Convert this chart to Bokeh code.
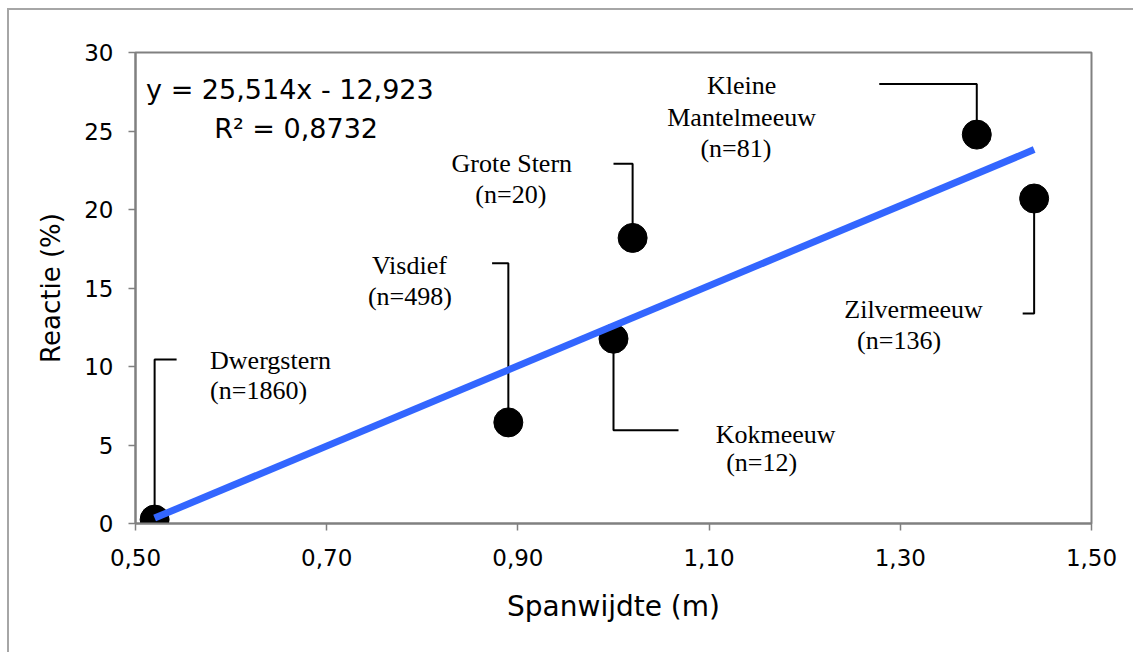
from bokeh.plotting import figure
from bokeh.models import Range1d, FixedTicker, CustomJSTickFormatter, ColumnDataSource, Styles
from bokeh.core.properties import value
from bokeh.embed import file_html
from bokeh.resources import INLINE

# Wingspan versus reaction per species
species = ["Dwergstern", "Visdief", "Kokmeeuw", "Grote Stern", "Kleine Mantelmeeuw", "Zilvermeeuw"]
sample_n = [1860, 498, 12, 20, 81, 136]
wingspan_m = [0.52, 0.89, 1.00, 1.02, 1.38, 1.44]
reaction_pct = [0.25, 6.44, 11.77, 18.19, 24.77, 20.7]

# Linear trend
trend_slope = 25.514
trend_intercept = -12.923
r_squared = 0.8732

x_ticks = [0.5, 0.7, 0.9, 1.1, 1.3, 1.5]
y_ticks = [0, 5, 10, 15, 20, 25, 30]

SANS = "DejaVu Sans"
SERIF = "Liberation Serif"

# Callout layout (data units): leader elbow height and end x, label line anchors
leader = {
    "Dwergstern": (10.45, 0.543),
    "Visdief": (16.58, 0.873),
    "Kokmeeuw": (5.94, 1.068),
    "Grote Stern": (22.92, 1.000),
    "Kleine Mantelmeeuw": (28.0, 1.278),
    "Zilvermeeuw": (13.37, 1.428),
}
label_pos = {
    "Dwergstern": [(0.578, 10.36, "left"), (0.578, 8.45, "left")],
    "Visdief": [(0.7865, 16.46, "center"), (0.787, 14.49, "center")],
    "Kokmeeuw": [(1.1696, 5.65, "center"), (1.155, 3.87, "center")],
    "Grote Stern": [(0.8936, 22.95, "center"), (0.8926, 20.98, "center")],
    "Kleine Mantelmeeuw": [(1.134, 27.87, "center"), (1.134, 25.88, "center"), (1.128, 23.87, "center")],
    "Zilvermeeuw": [(1.3139, 13.66, "center"), (1.2987, 11.63, "center")],
}
multiline_names = {"Kleine Mantelmeeuw"}

# Thin grey chart border along the top and left edges of the page
frame_style = Styles(
    background_color="white",
    background_image="linear-gradient(#a6a6a6, #a6a6a6), linear-gradient(#a6a6a6, #a6a6a6)",
    background_size="2px 100%, 100% 2px",
    background_position="7px 8px, 7px 8px",
    background_repeat="no-repeat",
)

p = figure(
    width=1133, height=652,
    x_range=Range1d(0.5, 1.5), y_range=Range1d(0, 30),
    output_backend="svg", toolbar_location=None,
    min_border_left=135, min_border_right=42,
    min_border_top=52, min_border_bottom=129,
    background_fill_color="white", border_fill_alpha=0,
    styles=frame_style,
)
p.xgrid.visible = False
p.ygrid.visible = False
p.outline_line_color = "#808080"
p.outline_line_width = 2

for ax in (p.xaxis[0], p.yaxis[0]):
    ax.axis_line_color = "#808080"
    ax.axis_line_width = 2
    ax.major_tick_line_color = "#808080"
    ax.major_tick_line_width = 1.5
    ax.major_tick_out = 7
    ax.major_tick_in = 0
    ax.minor_tick_line_color = None
    ax.major_label_text_font = SANS
    ax.major_label_text_font_size = "23px"
    ax.major_label_text_color = "black"
    ax.axis_label_text_font = SANS
    ax.axis_label_text_font_style = "normal"
    ax.axis_label_text_color = "black"

p.xaxis.axis_label_text_font_size = "28px"
p.yaxis.axis_label_text_font_size = "26px"
p.xaxis.ticker = FixedTicker(ticks=x_ticks)
p.yaxis.ticker = FixedTicker(ticks=y_ticks)
p.xaxis.formatter = CustomJSTickFormatter(code="return tick.toFixed(2).replace('.', ',');")
p.yaxis.formatter = CustomJSTickFormatter(code="return tick.toFixed(0);")
p.xaxis.major_label_standoff = 18
p.yaxis.major_label_standoff = 15
p.xaxis.axis_label = "Spanwijdte (m)"
p.yaxis.axis_label = "Reactie (%)"
p.xaxis.axis_label_standoff = 21
p.yaxis.axis_label_standoff = 15

# Leader lines from each point to its label
lx, ly = [], []
for name, x, y in zip(species, wingspan_m, reaction_pct):
    ey, ex = leader[name]
    lx.append([x, x, ex])
    ly.append([y, ey, ey])
p.multi_line(lx, ly, line_color="black", line_width=2)

# Data points
p.scatter(wingspan_m, reaction_pct, marker="circle", size=29,
          fill_color="black", line_color="black")

# Trend line over the data extent
tx = [min(wingspan_m), max(wingspan_m)]
ty = [trend_slope * v + trend_intercept for v in tx]
p.line(tx, ty, line_color="#3366ff", line_width=7, line_cap="butt")

# Species labels
tx_l, ty_l, tt_l, ta_l = [], [], [], []
for name, n in zip(species, sample_n):
    lines = name.split(" ") if name in multiline_names else [name]
    lines = lines + [f"(n={n})"]
    for txt, (px, py, al) in zip(lines, label_pos[name]):
        tx_l.append(px)
        ty_l.append(py)
        tt_l.append(txt)
        ta_l.append(al)
src = ColumnDataSource(dict(x=tx_l, y=ty_l, text=tt_l, align=ta_l))
p.text("x", "y", text="text", source=src, text_align="align",
       text_baseline="alphabetic", text_font=value(SERIF),
       text_font_size="26px", text_color="black")

# Trend equation
sign = "-" if trend_intercept < 0 else "+"
eq = f"y = {trend_slope:.3f}x {sign} {abs(trend_intercept):.3f}".replace(".", ",")
r2 = f"R\u00b2 = {r_squared:.4f}".replace(".", ",")
p.text([0.6615, 0.668], [27.64, 25.13], text=[eq, r2], text_align="center",
       text_baseline="alphabetic", text_font=value(SANS),
       text_font_size="27px", text_color="black")

open("out.html", "w").write(file_html(p, INLINE))
